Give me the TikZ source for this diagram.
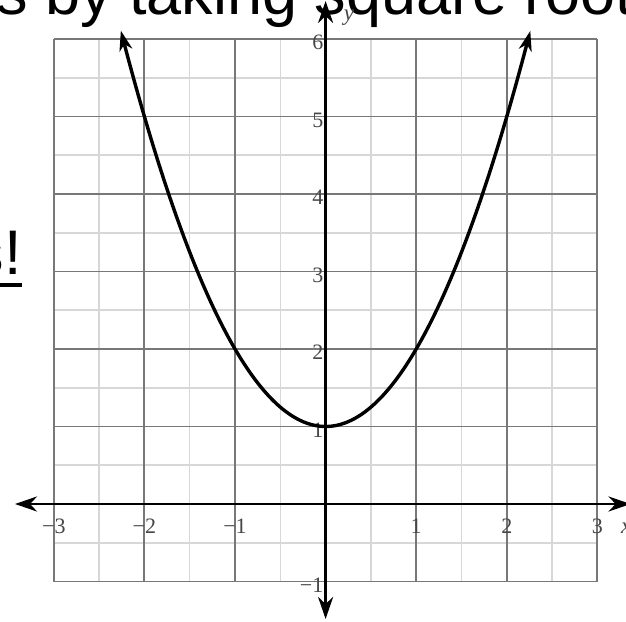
\documentclass[tikz,border=0pt]{standalone}
\usepackage{fontspec}
\setmainfont{Liberation Serif}
\newfontfamily\slidefont{Liberation Sans}
\usetikzlibrary{arrows.meta}
\definecolor{majorgrey}{RGB}{120,120,120}
\definecolor{minorgrey}{RGB}{215,215,215}
\definecolor{labelgrey}{RGB}{70,70,70}
\tikzset{
  minorgrid/.style={draw=minorgrey, line width=1.6pt},
  majorgrid/.style={draw=majorgrey, line width=1.8pt},
  axisline/.style={line width=2.8pt,
    {Stealth[length=22pt,width=15pt,inset=7pt]}-{Stealth[length=22pt,width=15pt,inset=7pt]}},
  curveline/.style={line width=3.4pt,
    {Stealth[length=20pt,width=13pt,inset=6pt]}-{Stealth[length=20pt,width=13pt,inset=6pt]}},
  ticklabel/.style={font=\fontsize{22}{22}\selectfont, text=labelgrey, inner sep=0pt},
  axislabel/.style={font=\itshape\fontsize{23}{23}\selectfont, text=labelgrey, inner sep=0pt},
  slidetext/.style={font=\slidefont\fontsize{63}{70}\selectfont, inner sep=0pt, text=black},
}
\begin{document}
\begin{tikzpicture}[x=90.6pt,y=77.5pt]
\useasboundingbox (-325.6pt,-117pt) rectangle (300.4pt,504pt);
% slide text behind the graph
\node[slidetext, anchor=base west] (toptext) at (-329.6pt,489pt) {s by taking square root};
\node[slidetext, anchor=base east] (lefttext) at (-303.6pt,229pt) {s!};
\coordinate (ulA) at (-330pt,219pt);
\coordinate (ulB) at (-303.2pt,219pt);
\draw[line width=4pt] (ulA) -- (ulB);
% grid
\draw[minorgrid] (-3,-1) grid[step=0.5] (3,6);
\draw[majorgrid] (-3,-1) grid[step=1] (3,6);
% axes
\coordinate (xleft) at (-310.6pt,0);
\coordinate (xright) at (305pt,0);
\coordinate (ytop) at (0,503pt);
\coordinate (ybottom) at (0,-115pt);
\draw[axisline] (xleft) -- (xright);
\draw[axisline] (ytop) -- (ybottom);
% tick labels
\foreach \i/\t in {-3/−3,-2/−2,-1/−1,1/1,2/2,3/3}{
  \node[ticklabel] (xl\i) at ([yshift=-22pt]\i,0) {\t};
}
\foreach \i/\t in {-1/−1,1/1,2/2,3/3,4/4,5/5,6/6}{
  \node[ticklabel, anchor=east] (yl\i) at ([xshift=-2pt,yshift=-3.5pt]0,\i) {\t};
}
\node[axislabel] (ylab) at (23.4pt,486pt) {y};
\node[axislabel, anchor=west] (xlab) at (295.4pt,-24pt) {x};
% parabola
\draw[curveline, domain=-2.26:2.26, samples=120, smooth] plot (\x,{\x*\x+1});
\end{tikzpicture}
\end{document}
